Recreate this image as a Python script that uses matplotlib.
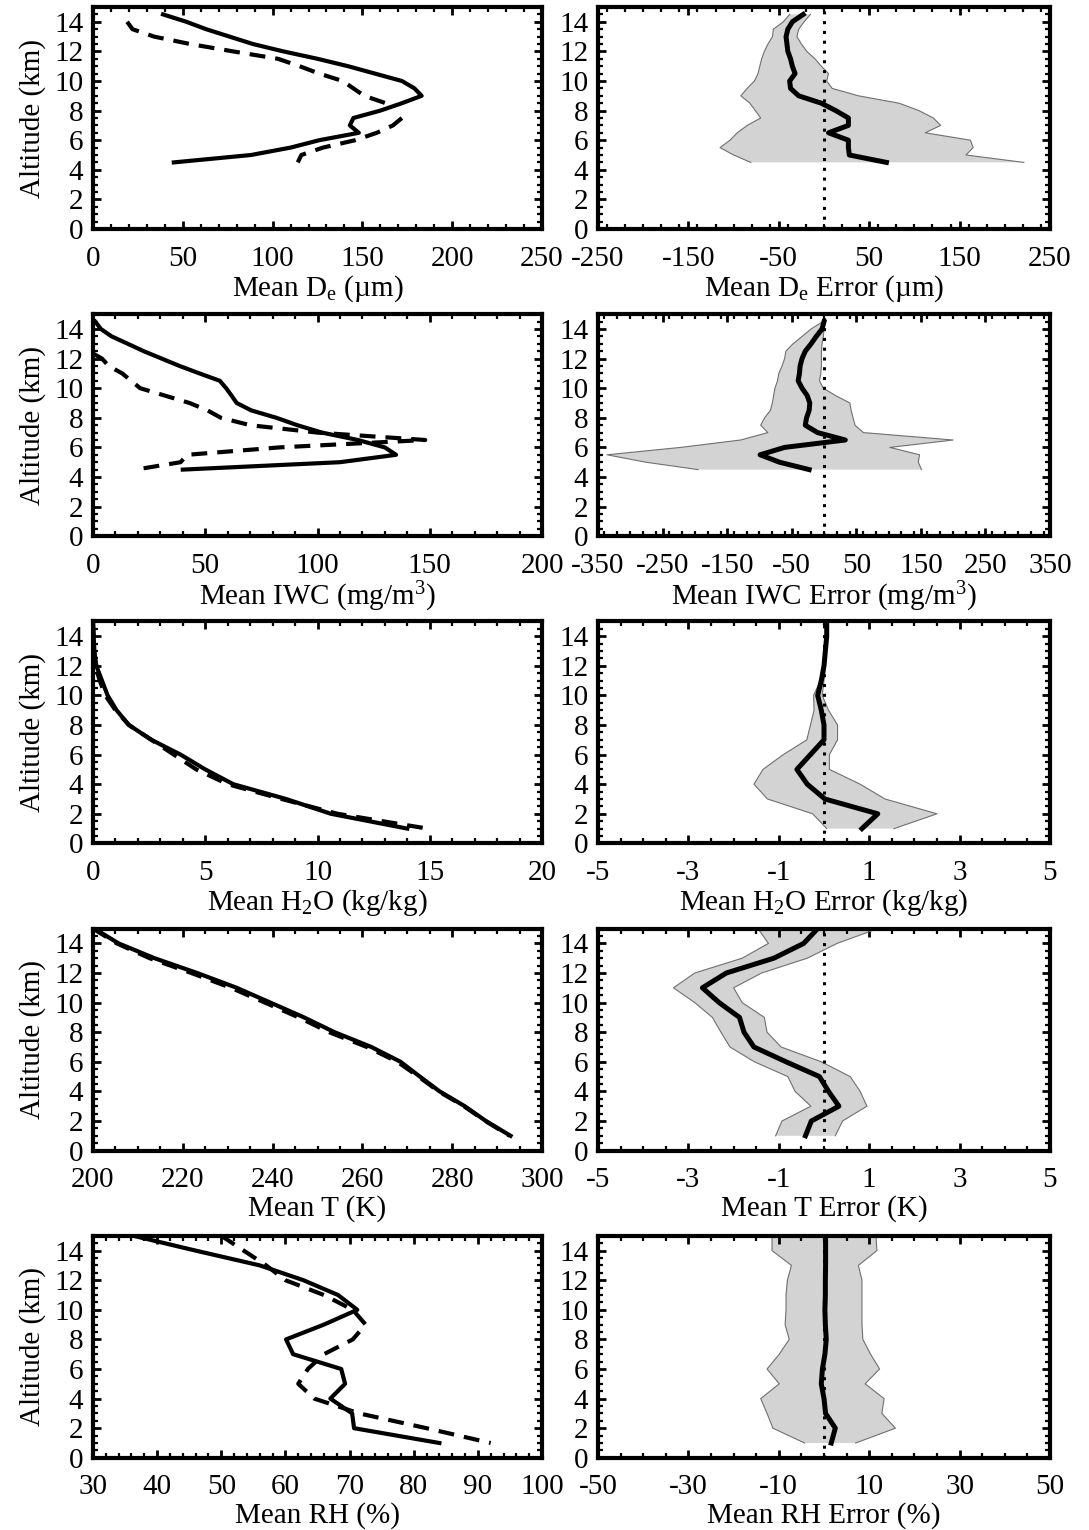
import matplotlib
matplotlib.use("Agg")
import matplotlib.pyplot as plt
from matplotlib.ticker import MultipleLocator
import numpy as np

plt.rcParams['font.family'] = ['Liberation Serif', 'DejaVu Serif']
plt.rcParams['mathtext.fontset'] = 'custom'
plt.rcParams['mathtext.rm'] = 'Liberation Serif'
plt.rcParams['mathtext.it'] = 'Liberation Serif:italic'

# ---- D_e profiles (0.5 km levels) ----
alt_de = [14.5, 14, 13.5, 13, 12.5, 12, 11.5, 11, 10.5, 10, 9.5, 9, 8.5, 8, 7.5, 7, 6.5, 6, 5.5, 5, 4.5]
de_solid = [39, 52, 63, 76, 89, 106, 125, 142, 157, 172, 179, 183, 172, 160, 145, 143, 148, 126, 110, 88, 45]
alt_de_dash = [14, 13.5, 13, 12.5, 12, 11.5, 11, 10.5, 10, 9.5, 9, 8.5]
de_dash = [19, 22, 34, 54, 78, 103, 115, 126, 139, 145, 151, 163]
alt_de_dash2 = [7.5, 7, 6.5, 6, 5.5, 5, 4.5]
de_dash2 = [172, 167, 158, 146, 128, 116, 114]
de_err = [-23, -35, -40, -42, -41, -40, -37, -35, -32, -38, -37, -28, -3, 13, 27, 27, 5, 27, 27, 28, 69]
de_lo = [-38, -45, -56, -57, -62, -66, -69, -71, -73, -77, -85, -92, -82, -76, -70, -85, -96, -104, -115, -100, -81]
de_hi = [-15, -22, -28, -30, -25, -19, -10, -3, 5, 3, 9, 38, 83, 105, 121, 129, 112, 162, 165, 157, 221]

# ---- IWC profiles ----
alt_iwc = [14.5, 14, 13.5, 13, 12.5, 12, 11.5, 11, 10.5, 10, 9.5, 9, 8.5, 8, 7.5, 7, 6.5, 6, 5.5, 5, 4.5]
iwc_solid = [1, 3.5, 8.3, 15.5, 22.6, 30.6, 38.6, 47.4, 56.5, 59.3, 61.7, 64, 70.5, 81.7, 91, 102, 118, 130, 135, 110, 40]
alt_iwc_dash = [12.3, 12, 11.5, 11, 10.5, 10, 9.5, 9, 8.5, 8, 7.5, 7, 6.5, 6, 5.5, 5, 4.5]
iwc_dash = [0.5, 4, 7, 13, 17, 21, 32, 43, 51, 57, 70, 100, 148, 83, 42, 39, 19]
iwc_err = [0, -3, -12, -20, -29, -34, -37, -38, -40, -34, -26, -22, -23, -27, -29, -10, 33, -61, -99, -69, -23]
iwc_lo = [-2, -20, -34, -48, -59, -61, -65, -70, -72, -76, -78, -80, -83, -92, -98, -87, -129, -222, -336, -276, -195]
iwc_hi = [1, 0, -1, -3, -4, -4, -4, -5, -7, -1, 18, 40, 42, 45, 48, 61, 200, 102, 148, 146, 151]

# ---- 1 km level profiles ----
alt_km = [15, 14, 13, 12, 11, 10, 9, 8, 7, 6, 5, 4, 3, 2, 1]
h2o_solid = [0, 0.03, 0.06, 0.15, 0.4, 0.65, 1.05, 1.6, 2.6, 3.9, 5.0, 6.25, 8.6, 10.6, 14.0]
h2o_dash = [0, 0.02, 0.04, 0.1, 0.3, 0.55, 1.0, 1.6, 2.6, 3.6, 4.6, 6.0, 8.4, 10.9, 14.9]
h2o_err = [0.06, 0.06, 0.03, 0, -0.06, -0.14, -0.06, 0, 0, -0.3, -0.6, -0.37, 0.02, 1.19, 0.84]
h2o_lo = [0.05, 0.05, 0.02, -0.02, -0.08, -0.23, -0.22, -0.3, -0.38, -0.9, -1.35, -1.55, -1.25, -0.25, 0.06]
h2o_hi = [0.07, 0.07, 0.05, 0.03, 0.0, -0.04, 0.1, 0.3, 0.3, 0.12, 0.12, 0.8, 1.35, 2.5, 1.55]

t_solid = [200.3, 205.7, 213.7, 223.2, 232, 239.5, 247, 253.8, 262, 268.5, 272.8, 277.2, 282.8, 287.5, 293]
t_dash = [200, 205.3, 212.6, 221.9, 230.7, 238.3, 245.8, 252.6, 261, 267.8, 272.5, 277, 282.6, 287.4, 292.8]
t_err = [-0.14, -0.45, -1.11, -2.16, -2.69, -2.32, -1.87, -1.77, -1.55, -0.84, -0.1, 0.1, 0.33, -0.28, -0.41]
t_lo = [-1.46, -1.23, -1.81, -2.86, -3.33, -2.86, -2.47, -2.28, -2.08, -1.54, -0.8, -0.64, -0.29, -0.93, -1.07]
t_hi = [1.19, 0.29, -0.37, -1.38, -2.0, -1.81, -1.32, -1.26, -0.95, -0.06, 0.58, 0.8, 0.95, 0.41, 0.25]

rh_solid = [36.3, 46, 56, 62.8, 68.2, 71.2, 66, 60.1, 61.2, 68.7, 69.3, 67, 70.4, 70.7, 84]
rh_dash = [50, 53.5, 57, 60, 66, 70.5, 72.5, 70.5, 66, 63.5, 62, 64.5, 71.5, 82, 92]
rh_err = [0.35, 0.35, 0.35, 0.3, 0.3, 0.2, 0.3, 0.5, 0.2, -0.35, -0.6, 0, 0.35, 2.5, 1.6]
rh_lo = [-11.5, -11.5, -7.2, -8.1, -8.4, -8.4, -8.6, -7.7, -9.9, -12.6, -9.9, -14, -12.6, -11.3, -4.3]
rh_hi = [11.5, 11.7, 7.6, 8.4, 8.4, 8.4, 8.4, 8.6, 10.3, 12.3, 9.1, 13.3, 12.8, 15.8, 7.0]

FS = 21
W, H = 1089, 1530
fig = plt.figure(figsize=(W / 100, H / 100), dpi=100)


def style(ax, xlim, xmaj, xmin, xlabel, ylabel=True):
    ax.set_xlim(*xlim)
    ax.set_ylim(0, 15)
    ax.xaxis.set_major_locator(MultipleLocator(xmaj))
    ax.xaxis.set_minor_locator(MultipleLocator(xmin))
    ax.yaxis.set_major_locator(MultipleLocator(2))
    ax.yaxis.set_minor_locator(MultipleLocator(0.5))
    ax.tick_params(which='both', direction='in', top=True, right=True, labelsize=FS)
    ax.tick_params(which='major', length=6, width=2, pad=7)
    ax.tick_params(axis='x', which='major', pad=12)
    ax.tick_params(which='minor', length=3.5, width=1.6)
    for s in ax.spines.values():
        s.set_linewidth(3)
    ax.set_xlabel(xlabel, fontsize=FS, labelpad=1)
    if ylabel:
        ax.set_ylabel('Altitude (km)', fontsize=FS, labelpad=6)


def err_ticks(ax, lim, step):
    ticks = np.arange(-lim, lim + step / 2, step)
    ax.set_xticks(ticks)
    ax.set_xticklabels(['%g' % t for t in ticks])


def err_panel(ax, alt, mean, lo, hi):
    ax.fill_betweenx(alt, lo, hi, facecolor='#d3d3d3', edgecolor='none', zorder=1)
    ax.plot(lo, alt, color='#707070', lw=0.8, zorder=2)
    ax.plot(hi, alt, color='#707070', lw=0.8, zorder=2)
    ax.plot([0, 0], [0, 15], color='black', lw=2.2, linestyle=(0, (1, 2.2)), zorder=3)
    ax.plot(mean, alt, color='black', lw=3.6, zorder=4)


dash = (0, (3.8, 2.4))
rows = []
for i in range(5):
    y0 = 1 - (229 + 307.2 * i) / H
    axl = fig.add_axes([93 / W, y0, 449 / W, 222 / H])
    axr = fig.add_axes([598 / W, y0, 452 / W, 222 / H])
    rows.append((axl, axr))

# row 1: D_e
axl, axr = rows[0]
axl.plot(de_solid, alt_de, color='black', lw=3)
axl.plot(de_dash, alt_de_dash, color='black', lw=3, linestyle=dash)
axl.plot(de_dash2, alt_de_dash2, color='black', lw=3, linestyle=dash)
style(axl, (0, 250), 50, 10, 'Mean D$_{\\rm e}$ (µm)')
err_panel(axr, alt_de, de_err, de_lo, de_hi)
style(axr, (-250, 250), 100, 20, 'Mean D$_{\\rm e}$ Error (µm)', ylabel=False)
err_ticks(axr, 250, 100)

# row 2: IWC
axl, axr = rows[1]
axl.plot(iwc_solid, alt_iwc, color='black', lw=3)
axl.plot(iwc_dash, alt_iwc_dash, color='black', lw=3, linestyle=dash)
style(axl, (0, 200), 50, 10, r'Mean IWC (mg/m$^{3}$)')
err_panel(axr, alt_iwc, iwc_err, iwc_lo, iwc_hi)
style(axr, (-350, 350), 100, 20, r'Mean IWC Error (mg/m$^{3}$)', ylabel=False)
err_ticks(axr, 350, 100)

# row 3: H2O
axl, axr = rows[2]
axl.plot(h2o_solid, alt_km, color='black', lw=3)
axl.plot(h2o_dash, alt_km, color='black', lw=3, linestyle=dash)
style(axl, (0, 20), 5, 1, r'Mean H$_{2}$O (kg/kg)')
err_panel(axr, alt_km, h2o_err, h2o_lo, h2o_hi)
style(axr, (-5, 5), 2, 0.5, r'Mean H$_{2}$O Error (kg/kg)', ylabel=False)
err_ticks(axr, 5, 2)

# row 4: T
axl, axr = rows[3]
axl.plot(t_solid, alt_km, color='black', lw=3)
axl.plot(t_dash, alt_km, color='black', lw=3, linestyle=dash)
style(axl, (200, 300), 20, 5, 'Mean T (K)')
err_panel(axr, alt_km, t_err, t_lo, t_hi)
style(axr, (-5, 5), 2, 0.5, 'Mean T Error (K)', ylabel=False)
err_ticks(axr, 5, 2)

# row 5: RH
axl, axr = rows[4]
axl.plot(rh_solid, alt_km, color='black', lw=3)
axl.plot(rh_dash, alt_km, color='black', lw=3, linestyle=dash)
style(axl, (30, 100), 10, 2, 'Mean RH (%)')
err_panel(axr, alt_km, rh_err, rh_lo, rh_hi)
style(axr, (-50, 50), 20, 5, 'Mean RH Error (%)', ylabel=False)
err_ticks(axr, 50, 20)

fig.savefig('out.png', dpi=100)
